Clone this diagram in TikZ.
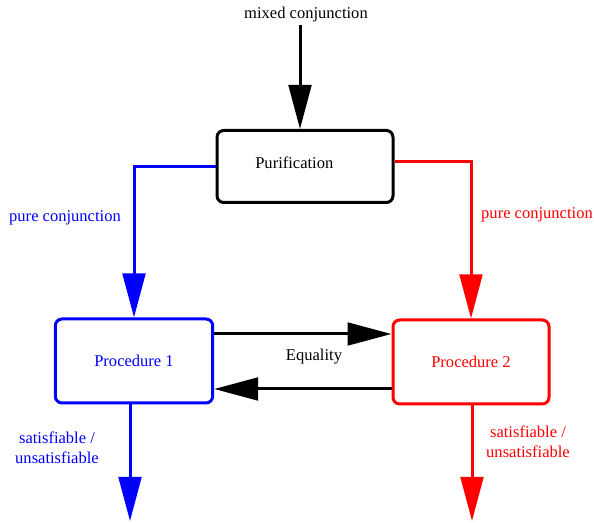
\documentclass[tikz,border=0pt]{standalone}
\usepackage{fontspec}
\setmainfont{Liberation Serif}
\usetikzlibrary{arrows.meta}

\tikzset{
  procbox/.style={draw, line width=2.25pt, rounded corners=5pt, minimum width=#1},
  flow/.style={line width=2.25pt, -{Triangle[length=33pt, width=17pt]}},
}

\begin{document}
\begin{tikzpicture}[x=0.75pt, y=-0.75pt, font=\fontsize{12.4}{15}\selectfont]

\useasboundingbox (0,0) rectangle (594,523);

\node [procbox=132pt, minimum height=54pt, label={[xshift=-8pt, yshift=2.5pt]center:Purification}] (pur) at (305,166.5) {};
\node [procbox=118pt, minimum height=63pt, blue, text=blue] (p1) at (134,361) {Procedure 1};
\node [procbox=117pt, minimum height=63pt, red, text=red] (p2) at (471,362) {Procedure 2};

\node (mixed) at (306,15) {mixed conjunction};
\coordinate (top) at (300,25);
\coordinate (out1) at (130,521);
\coordinate (out2) at (472,521);

\draw [flow] (top) -- (top |- pur.north);
\draw [flow, blue] (pur.west) -| (p1.north);
\draw [flow, red] (pur.east |- 0,162) -| (p2.north);
\draw [flow] (p1.east |- 0,334) -- (p2.west |- 0,334);
\draw [flow] (p2.west |- 0,389) -- (p1.east |- 0,389);
\draw [flow, blue] (p1.south -| out1) -- (out1);
\draw [flow, red] (p2.south -| out2) -- (out2);

\node [blue] (pc1) at (65,218) {pure conjunction};
\node [red] (pc2) at (537,215) {pure conjunction};
\node (eq) at (314,357) {Equality};
\node [blue, align=center] (sat1) at (57,447.5) {satisfiable /\\unsatisfiable};
\node [red, align=center] (sat2) at (528,442) {satisfiable /\\unsatisfiable};

\end{tikzpicture}
\end{document}
